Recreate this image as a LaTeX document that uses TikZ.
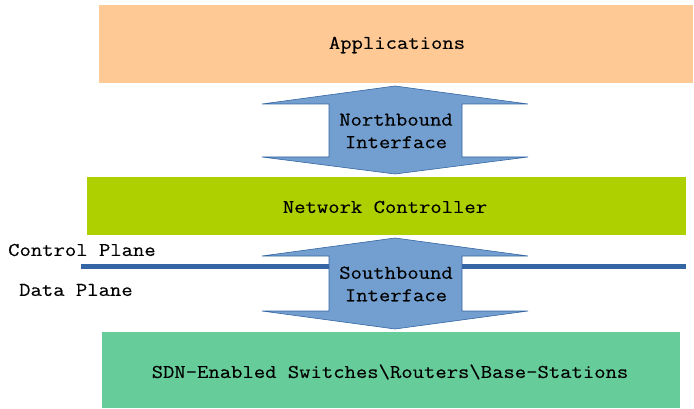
\documentclass[tikz,border=0pt]{standalone}
\usepackage{fontspec}
\newfontfamily\courfont{Latin Modern Mono}[FakeStretch=1.13,FakeBold=0.3]
\definecolor{appc}{HTML}{FFC996}
\definecolor{ctrlc}{HTML}{AECF00}
\definecolor{swc}{HTML}{66CC99}
\definecolor{arrfill}{HTML}{729FCF}
\definecolor{arrline}{HTML}{3465A4}
\begin{document}
\begin{tikzpicture}[x=1pt,y=-1pt,
  lbl/.style={font=\courfont\fontsize{19.5}{22.5}\selectfont,inner sep=0pt},
  dblarrow/.style={fill=arrfill,draw=arrline,line width=0.6pt}]
\useasboundingbox (0,0) rectangle (694,409);
% boxes
\fill[appc] (99,5) rectangle (693,83);
\node[lbl] (app) at (397,45) {Applications};
\fill[ctrlc] (87,177) rectangle (686,235);
\node[lbl] (ctrl) at (385,207) {Network Controller};
\fill[swc] (102,332) rectangle (680,408);
\node[lbl] (sw) at (390,372) {SDN-Enabled Switches\textbackslash Routers\textbackslash Base-Stations};
% plane line
\coordinate (pl) at (81,266);
\coordinate (pr) at (686,266);
\draw[arrline,line width=5pt] (pl) -- (pr);
\node[lbl,anchor=west] (cp) at (8,250) {Control Plane};
\node[lbl,anchor=west] (dp) at (19,290) {Data Plane};
% northbound arrow
\draw[dblarrow] (395,86) -- (528,104) -- (462,104) -- (462,157) -- (528,157) -- (395,174)
  -- (262,157) -- (329,157) -- (329,104) -- (262,104) -- cycle;
\node[lbl,align=center] (nb) at (396,131) {Northbound\\Interface};
% southbound arrow
\draw[dblarrow] (395,238) -- (528,256) -- (462,256) -- (462,311) -- (528,311) -- (395,329)
  -- (262,311) -- (329,311) -- (329,256) -- (262,256) -- cycle;
\node[lbl,align=center] (sb) at (396,284) {Southbound\\Interface};
\end{tikzpicture}
\end{document}
